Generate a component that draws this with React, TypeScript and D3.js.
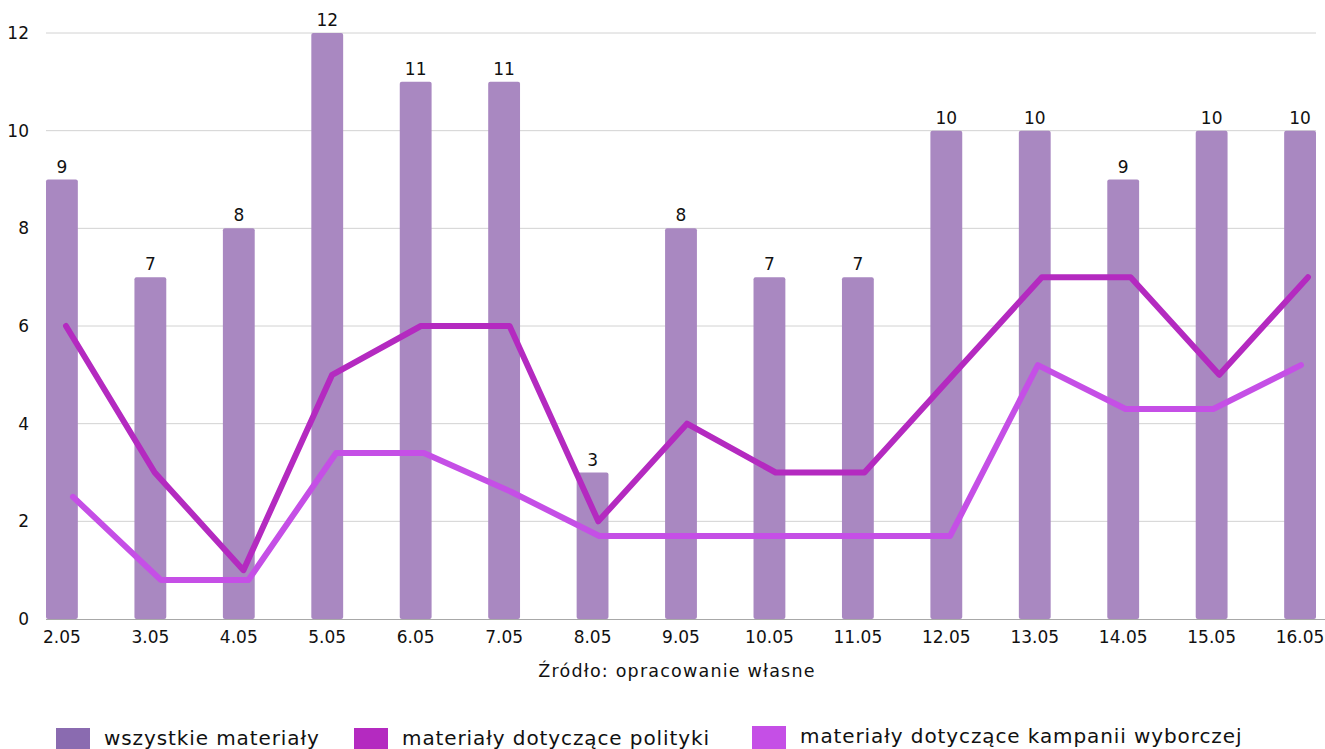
import { useEffect, useRef } from 'react';
import * as d3 from 'd3';

const days = ['2.05', '3.05', '4.05', '5.05', '6.05', '7.05', '8.05', '9.05', '10.05', '11.05', '12.05', '13.05', '14.05', '15.05', '16.05'];
const allMaterials = [9, 7, 8, 12, 11, 11, 3, 8, 7, 7, 10, 10, 9, 10, 10];
const politics = [6, 3, 1, 5, 6, 6, 2, 4, 3, 3, 5, 7, 7, 5, 7];
const campaign = [2.5, 0.8, 0.8, 3.4, 3.4, 2.6, 1.7, 1.7, 1.7, 1.7, 1.7, 5.2, 4.3, 4.3, 5.2];
const yTicks = [0, 2, 4, 6, 8, 10, 12];
const legendLabels = ['wszystkie materiały', 'materiały dotyczące polityki', 'materiały dotyczące kampanii wyborczej'];
const sourceNote = 'Źródło: opracowanie własne';

const W = 1325;
const H = 749;
const FONT = '"DejaVu Sans", sans-serif';
const BAR = '#a988c1';
const BAR_LEGEND = '#8a6bb0';
const POL = '#b42ac0';
const CAMP = '#c54fe6';

export default function App() {
  const ref = useRef<SVGSVGElement | null>(null);

  useEffect(() => {
    const svg = d3.select(ref.current);
    svg.selectAll('*').remove();

    const left = 46;
    const right = 1316;
    const top = 33;
    const bottom = 619;

    const x = d3.scaleBand<string>().domain(days).range([left, right]).paddingInner(0.64).paddingOuter(0);
    const y = d3.scaleLinear().domain([0, 12]).range([bottom, top]);

    // the line series in the source sit a bit right of the bar centres
    const xPol = d3.scalePoint<string>().domain(days).range([66, 1308]);
    const xCamp = d3.scalePoint<string>().domain(days).range([73, 1301]);

    // grid
    svg.append('g')
      .selectAll('line')
      .data(yTicks.filter((t) => t > 0))
      .join('line')
      .attr('x1', left)
      .attr('x2', right)
      .attr('y1', (d) => y(d))
      .attr('y2', (d) => y(d))
      .attr('stroke', '#d2d2d2')
      .attr('stroke-width', 1);

    // y labels
    svg.append('g')
      .selectAll('text')
      .data(yTicks)
      .join('text')
      .attr('x', 29)
      .attr('y', (d) => y(d) + 6)
      .attr('text-anchor', 'end')
      .attr('font-size', 17)
      .attr('font-family', FONT)
      .attr('fill', '#111')
      .text((d) => d);

    // bars
    svg.append('g')
      .selectAll('rect')
      .data(allMaterials)
      .join('rect')
      .attr('x', (_, i) => x(days[i]) ?? 0)
      .attr('y', (d) => y(d))
      .attr('width', x.bandwidth())
      .attr('height', (d) => bottom - y(d))
      .attr('rx', 2)
      .attr('fill', BAR);

    // bar value labels
    svg.append('g')
      .selectAll('text')
      .data(allMaterials)
      .join('text')
      .attr('x', (_, i) => (x(days[i]) ?? 0) + x.bandwidth() / 2)
      .attr('y', (d) => y(d) - 7)
      .attr('text-anchor', 'middle')
      .attr('font-size', 17)
      .attr('font-family', FONT)
      .attr('fill', '#111')
      .text((d) => d);

    // x axis line
    svg.append('line')
      .attr('x1', left)
      .attr('x2', W)
      .attr('y1', bottom + 0.5)
      .attr('y2', bottom + 0.5)
      .attr('stroke', '#a8a8a8')
      .attr('stroke-width', 1);

    // x labels
    svg.append('g')
      .selectAll('text')
      .data(days)
      .join('text')
      .attr('x', (d) => (x(d) ?? 0) + x.bandwidth() / 2)
      .attr('y', 643)
      .attr('text-anchor', 'middle')
      .attr('font-size', 17)
      .attr('font-family', FONT)
      .attr('fill', '#111')
      .text((d) => d);

    svg.append('text')
      .attr('x', 677)
      .attr('y', 677)
      .attr('text-anchor', 'middle')
      .attr('font-size', 17.5)
      .attr('letter-spacing', 1.2)
      .attr('font-family', FONT)
      .attr('fill', '#111')
      .text(sourceNote);

    // lines
    const lineOf = (sx: d3.ScalePoint<string>) =>
      d3.line<number>().x((_, i) => sx(days[i]) ?? 0).y((d) => y(d));

    svg.append('path')
      .datum(campaign)
      .attr('d', lineOf(xCamp))
      .attr('fill', 'none')
      .attr('stroke', CAMP)
      .attr('stroke-width', 6)
      .attr('stroke-linejoin', 'round')
      .attr('stroke-linecap', 'round');

    svg.append('path')
      .datum(politics)
      .attr('d', lineOf(xPol))
      .attr('fill', 'none')
      .attr('stroke', POL)
      .attr('stroke-width', 6)
      .attr('stroke-linejoin', 'round')
      .attr('stroke-linecap', 'round');

    // legend (sits at the very bottom edge, as in the source)
    const legendX = [56, 354, 752];
    const legendY = [728, 728, 726];
    const legendColors = [BAR_LEGEND, POL, CAMP];
    const lg = svg.append('g')
      .selectAll('g')
      .data(legendLabels)
      .join('g')
      .attr('transform', (_, i) => `translate(${legendX[i]},${legendY[i]})`);
    lg.append('rect').attr('width', 34).attr('height', 30).attr('fill', (_, i) => legendColors[i]);
    lg.append('text')
      .attr('x', 48)
      .attr('y', 17)
      .attr('font-size', 20)
      .attr('letter-spacing', 0.9)
      .attr('font-family', FONT)
      .attr('fill', '#111')
      .text((d) => d);
  }, []);

  return (
    <div style={{ position: 'fixed', left: 0, top: 0, width: W, height: H, background: '#fff' }}>
      <svg ref={ref} width={W} height={H} style={{ display: 'block' }} />
    </div>
  );
}
